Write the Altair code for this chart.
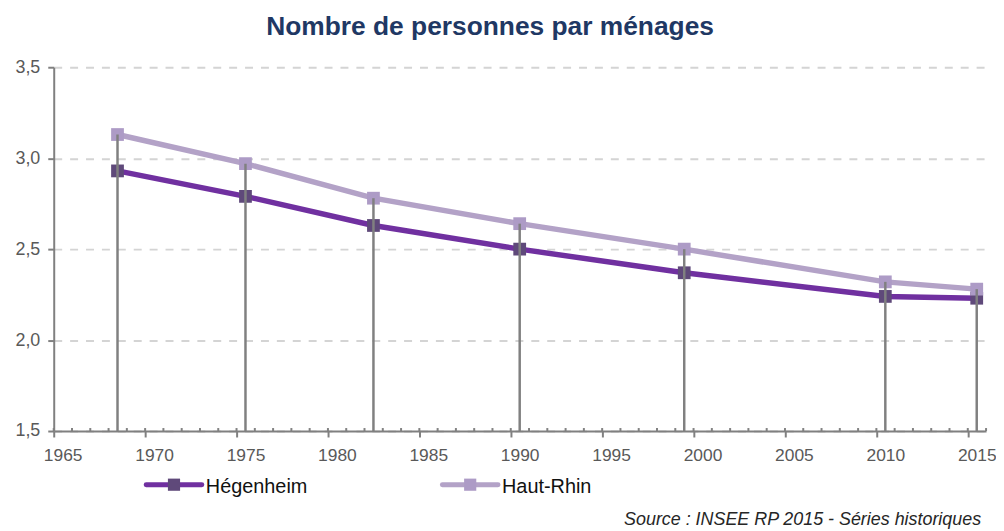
import altair as alt
import pandas as pd

years = [1968, 1975, 1982, 1990, 1999, 2010, 2015]
hegenheim = [2.93, 2.79, 2.63, 2.50, 2.37, 2.24, 2.23]
haut_rhin = [3.13, 2.97, 2.78, 2.64, 2.50, 2.32, 2.28]
series_names = ["Hégenheim", "Haut-Rhin"]
line_colors = ["#7030a0", "#b3a2c7"]
marker_colors = ["#5f497a", "#ad9bc6"]
major_ticks = list(range(1965, 2016, 5))
minor_ticks = list(range(1965, 2017))
y_ticks = [1.5, 2.0, 2.5, 3.0, 3.5]

title_text = "Nombre de personnes par ménages"
source_text = "Source : INSEE RP 2015 - Séries historiques"

rows = []
for name, vals in zip(series_names, [hegenheim, haut_rhin]):
    for yr, v in zip(years, vals):
        rows.append({"year": yr, "series": name, "value": v})
df = pd.DataFrame(rows)
df_top = pd.DataFrame({"year": years, "value": haut_rhin})
df_minor = pd.DataFrame({"year": minor_ticks})

FONT = "Liberation Sans"
GRAY = "#808080"
W, H = 938, 366
OFF = 9

xscale = alt.Scale(domain=[1965, 2016], nice=False, zero=False)
yscale = alt.Scale(domain=[1.5, 3.5], nice=False, zero=False)

x_axis = alt.Axis(values=major_ticks, format="d", title=None, labelOffset=OFF,
                  tickSize=6, tickWidth=2, tickColor=GRAY, domainColor=GRAY,
                  domainWidth=2, grid=False, labelFont=FONT, labelFontSize=17.5,
                  labelColor="#595959", labelPadding=10, labelFlush=False,
                  labelOverlap=False)
y_axis = alt.Axis(values=y_ticks, title=None,
                  labelExpr="replace(format(datum.value, '.1f'), '.', ',')",
                  tickSize=6, tickWidth=2, tickColor=GRAY, domainColor=GRAY,
                  domainWidth=2, grid=True, gridColor="#d4d4d4", gridWidth=2,
                  gridDash=[8, 8], labelFont=FONT, labelFontSize=18,
                  labelColor="#595959", labelPadding=8)

base = alt.Chart(df)

lines = base.mark_line(strokeWidth=5.5, xOffset=OFF).encode(
    x=alt.X("year:Q", scale=xscale, axis=x_axis),
    y=alt.Y("value:Q", scale=yscale, axis=y_axis),
    stroke=alt.Stroke("series:N", scale=alt.Scale(domain=series_names, range=line_colors), legend=None),
    detail="series:N",
)

points = base.mark_square(size=165, opacity=1, xOffset=OFF).encode(
    x=alt.X("year:Q", scale=xscale),
    y=alt.Y("value:Q", scale=yscale),
    fill=alt.Fill("series:N", scale=alt.Scale(domain=series_names, range=marker_colors), legend=None),
)

drops = alt.Chart(df_top).mark_rule(color=GRAY, strokeWidth=2.5, xOffset=OFF).encode(
    x=alt.X("year:Q", scale=xscale),
    y=alt.Y("value:Q", scale=yscale),
    y2=alt.datum(1.5),
)

minor = alt.Chart(df_minor).mark_rule(color=GRAY, strokeWidth=2).encode(
    x=alt.X("year:Q", scale=xscale),
    y=alt.value(H - 3),
    y2=alt.value(H),
)

title = alt.Chart(pd.DataFrame({"t": [title_text]})).mark_text(
    font=FONT, fontSize=26.5, fontWeight="bold", color="#1f3864",
    align="center", baseline="alphabetic"
).encode(text="t:N", x=alt.value(439), y=alt.value(-32))

source = alt.Chart(pd.DataFrame({"t": [source_text]})).mark_text(
    font=FONT, fontSize=18, fontStyle="italic", color="#262626",
    align="right", baseline="alphabetic"
).encode(text="t:N", x=alt.value(933), y=alt.value(461))

legend_layers = []
leg_x = [93, 391]
for name, lc, mc, lx in zip(series_names, line_colors, marker_colors, leg_x):
    d = pd.DataFrame({"t": [name]})
    legend_layers.append(alt.Chart(d).mark_rule(color=lc, strokeWidth=5, strokeCap="round").encode(
        x=alt.value(lx), x2=alt.value(lx + 56), y=alt.value(420)))
    legend_layers.append(alt.Chart(d).mark_square(size=150, opacity=1, color=mc).encode(
        x=alt.value(lx + 28), y=alt.value(420)))
    legend_layers.append(alt.Chart(d).mark_text(
        font=FONT, fontSize=20, color="#111111", align="left", baseline="alphabetic"
    ).encode(text="t:N", x=alt.value(lx + 60), y=alt.value(428)))

chart = alt.layer(lines, points, drops, minor, title, source, *legend_layers).resolve_scale(
    stroke="independent", fill="independent"
).properties(
    width=W, height=H,
    autosize=alt.AutoSizeParams(type="none"),
    padding={"left": 46, "top": 58, "right": 10, "bottom": 99},
    background="white",
).configure_view(stroke=None)

chart.save("out.html", embed_options={"renderer": "svg", "actions": False})
